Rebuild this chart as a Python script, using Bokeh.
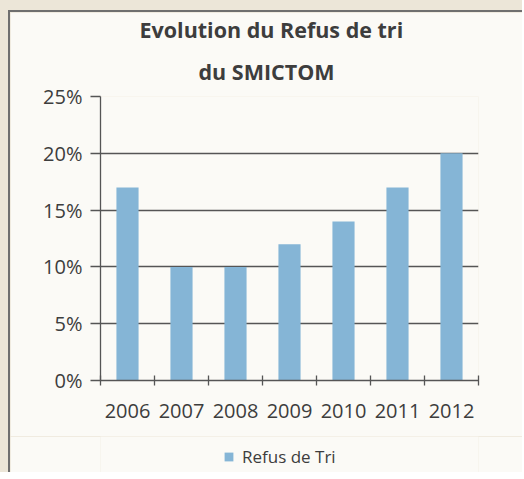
from bokeh.plotting import figure
from bokeh.layouts import column
from bokeh.models import FixedTicker, Legend, LegendItem, ColumnDataSource, Range1d, Title
from bokeh.embed import file_html
from bokeh.resources import INLINE

years = ["2006", "2007", "2008", "2009", "2010", "2011", "2012"]
refus = [17, 10, 10, 12, 14, 17, 20]
y_ticks = [0, 5, 10, 15, 20, 25]
y_labels = ["0%", "5%", "10%", "15%", "20%", "25%"]
series_name = "Refus de Tri"
title_lines = ["Evolution du Refus de tri", "du SMICTOM"]
title_offsets = [39, 98]

BG = "#fbfaf6"
PAGE = "#ece6d8"
TXT = "#3d3d3d"
AX = "#555555"
BAR = "#85b5d6"
FONT = "Open Sans"
BORDER = "2px solid #6f6f6f"

xs = list(range(len(years)))
src = ColumnDataSource(dict(x=xs, y=refus))

p = figure(width=514, height=426, output_backend="svg", toolbar_location=None,
           x_range=Range1d(-0.5, len(years) - 0.5), y_range=Range1d(0, 25),
           background_fill_color=BG, border_fill_color=BG,
           min_border_left=90, min_border_right=46, min_border_top=10, min_border_bottom=58)
p.outline_line_color = None
p.margin = (10, 0, 0, 8)
p.styles = {"border-left": BORDER, "border-top": BORDER}

n = len(title_lines)
for i in range(n - 1, -1, -1):
    t = Title(text=title_lines[i], align="left", offset=title_offsets[i], text_font=FONT,
              text_font_size="21.5px", text_font_style="bold", text_color=TXT,
              text_line_height=1.0, standoff=22 if i == n - 1 else 0)
    p.add_layout(t, "above")

r = p.vbar(x="x", top="y", width=0.41, source=src, fill_color=BAR, line_color=None)

p.xgrid.visible = False
p.ygrid.grid_line_color = AX
p.ygrid.grid_line_width = 1.3
p.ygrid.ticker = FixedTicker(ticks=y_ticks)

ya = p.yaxis[0]
ya.ticker = FixedTicker(ticks=y_ticks)
ya.major_label_overrides = {v: l for v, l in zip(y_ticks, y_labels)}
ya.major_label_text_font = FONT
ya.major_label_text_font_size = "20px"
ya.major_label_text_color = TXT
ya.axis_line_color = AX
ya.axis_line_width = 1.3
ya.major_tick_line_color = AX
ya.major_tick_line_width = 1.3
ya.major_tick_out = 10
ya.major_tick_in = 0
ya.minor_tick_line_color = None
ya.major_label_standoff = 8

xa = p.xaxis[0]
xa.ticker = FixedTicker(ticks=xs, minor_ticks=[i - 0.5 for i in range(len(years) + 1)])
xa.major_label_overrides = {i: y for i, y in enumerate(years)}
xa.major_label_text_font = FONT
xa.major_label_text_font_size = "20px"
xa.major_label_text_color = TXT
xa.axis_line_color = AX
xa.axis_line_width = 1.3
xa.major_tick_line_color = None
xa.major_tick_in = 0
xa.major_tick_out = 0
xa.minor_tick_line_color = AX
xa.minor_tick_line_width = 1.3
xa.minor_tick_in = 5
xa.minor_tick_out = 5
xa.major_label_standoff = 18

# legend strip below the chart (its bars sit outside the visible y range)
p2 = figure(width=514, height=36, output_backend="svg", toolbar_location=None,
            x_axis_type=None, y_axis_type=None,
            x_range=Range1d(-0.5, len(years) - 0.5), y_range=Range1d(100, 101),
            background_fill_color=BG, border_fill_color=BG,
            min_border_left=0, min_border_right=0, min_border_top=0, min_border_bottom=0)
p2.outline_line_color = None
p2.grid.visible = False
p2.margin = (0, 0, 0, 8)
p2.styles = {"border-left": BORDER}
r2 = p2.vbar(x="x", top="y", width=0.41, source=src, fill_color=BAR, line_color=None)
leg = Legend(items=[LegendItem(label=series_name, renderers=[r2])],
             orientation="horizontal", location=(123, 4),
             background_fill_alpha=0, border_line_color=None,
             label_text_font=FONT, label_text_font_size="17px", label_text_color=TXT,
             glyph_width=11, glyph_height=11, margin=0, padding=0, label_standoff=8)
p2.add_layout(leg)

layout = column(p, p2, spacing=0, styles={"background-color": PAGE})
open("out.html", "w").write(file_html(layout, INLINE))
